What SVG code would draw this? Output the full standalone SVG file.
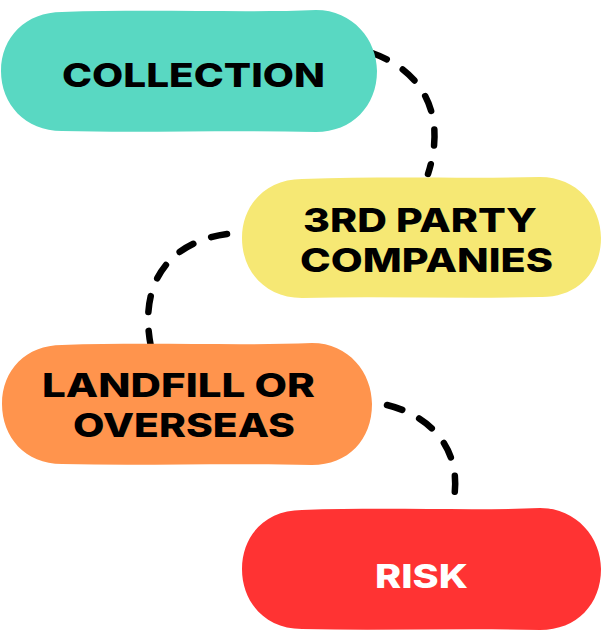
<svg xmlns="http://www.w3.org/2000/svg" width="603" height="638" viewBox="0 0 603 638">
<style>
.lbl{font-family:"Inter","Open Sans","Liberation Sans",sans-serif;font-weight:800;font-size:33px;fill:#000}
.w{fill:#fff}
.conn{fill:none;stroke:#000;stroke-width:6.5;stroke-linecap:round;stroke-dasharray:16 19}
</style>
<rect width="603" height="638" fill="#fff"/>
<g id="connectors">
<path class="conn" d="M372,53 C420,70 448,112 428,174"/>
<path class="conn" d="M227,234 C170,242 138,282 151,347"/>
<path class="conn" d="M387,405 C432,416 466,452 452,508"/>
</g>
<g id="collection">
<path fill="#59D8C2" d="M62,12 C150,9 250,13 316,10 C353,10 377,40 377,71 C377,106 352,132 316,132 C230,130 140,133 62,131 C25,131 1,104 1,71 C1,37 26,12 62,12 Z"/>
<text class="lbl" x="62" y="87" textLength="263" lengthAdjust="spacingAndGlyphs">COLLECTION</text>
</g>
<g id="third-party">
<path fill="#F6E874" d="M302,179 C390,176 470,179 540,177 C577,177 601,206 601,238 C601,272 577,298 540,297 C460,299 380,296 302,298 C266,298 242,272 242,238 C242,205 266,179 302,179 Z"/>
<text class="lbl" x="303" y="232" textLength="234" lengthAdjust="spacingAndGlyphs">3RD PARTY</text>
<text class="lbl" x="300" y="272" textLength="253" lengthAdjust="spacingAndGlyphs">COMPANIES</text>
</g>
<g id="landfill">
<path fill="#FF944D" d="M62,345 C150,342 240,346 312,343 C349,343 372,373 372,404 C372,440 348,465 312,465 C220,463 140,466 62,464 C25,464 2,437 2,404 C2,370 26,345 62,345 Z"/>
<text class="lbl" x="42" y="397" textLength="273" lengthAdjust="spacingAndGlyphs">LANDFILL OR</text>
<text class="lbl" x="73" y="437" textLength="222" lengthAdjust="spacingAndGlyphs">OVERSEAS</text>
</g>
<g id="risk">
<path fill="#FF3333" d="M302,510 C390,507 470,511 540,508 C577,508 601,538 601,569 C601,604 577,630 540,630 C460,628 380,631 302,629 C265,629 242,602 242,569 C242,535 266,510 302,510 Z"/>
<text class="lbl w" x="375" y="588" textLength="93" lengthAdjust="spacingAndGlyphs">RISK</text>
</g>
</svg>
